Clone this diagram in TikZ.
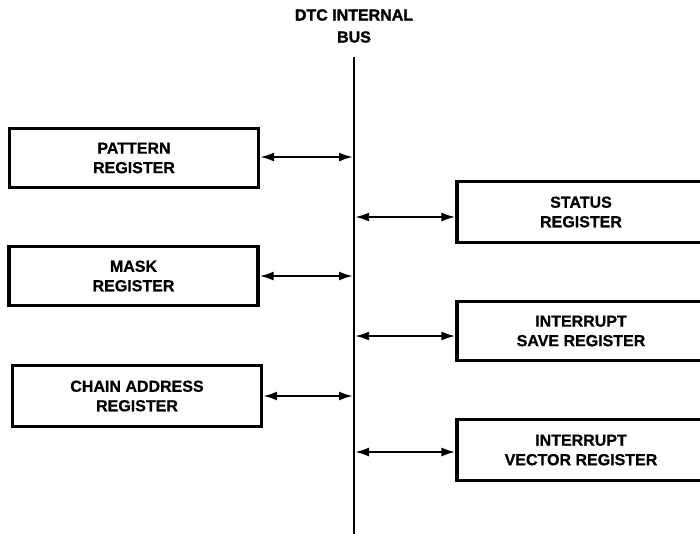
\documentclass[tikz,border=0pt]{standalone}
\usepackage{fontspec}
\setmainfont{Liberation Sans}
\newfontfamily\heavy[FakeBold=0.8]{Liberation Sans Bold}
\newfontfamily\heavier[FakeBold=1.6]{Liberation Sans Bold}
\usetikzlibrary{arrows.meta}
\tikzset{
  reg/.style={draw=black, line width=3.2pt, fill=white, align=center,
    font=\fontsize{16}{19.5}\selectfont\heavy, inner sep=0pt},
  lreg/.style={reg, minimum width=249pt, minimum height=59pt},
  rreg/.style={reg, minimum width=248pt, minimum height=61pt},
  link/.style={line width=2.2pt, {Latex[length=14pt,width=9pt]}-{Latex[length=14pt,width=9pt]}},
  busline/.style={line width=2.6pt},
  titlefont/.style={font=\fontsize{16}{22}\selectfont\heavier, align=center}
}
\begin{document}
\begin{tikzpicture}[x=1pt,y=-1pt]
\useasboundingbox (0,0) rectangle (700,533);
\node[titlefont] (title) at (354,26) {DTC INTERNAL\\BUS};
\coordinate (bt) at (354,57);
\coordinate (bb) at (354,540);
\draw[busline] (bt) -- (bb);

\node[lreg] (pat) at (134,158) {PATTERN\\REGISTER};
\node[lreg] (mask) at (133.5,276) {MASK\\REGISTER};
\node[lreg, minimum height=61pt] (chain) at (137,396) {CHAIN ADDRESS\\REGISTER};

\node[rreg] (stat) at (581,212) {STATUS\\REGISTER};
\node[rreg, minimum height=59pt] (save) at (581,331) {INTERRUPT\\SAVE REGISTER};
\node[rreg] (vec) at (581,450) {INTERRUPT\\VECTOR REGISTER};

\coordinate (pa) at (353,157);
\coordinate (ma) at (353,276);
\coordinate (ca) at (353,396);
\coordinate (sa) at (355,217);
\coordinate (ia) at (355,336);
\coordinate (va) at (355,452);

\draw[link] (pat.east |- pa) -- (pa);
\draw[link] (mask.east |- ma) -- (ma);
\draw[link] (chain.east |- ca) -- (ca);
\draw[link] (sa) -- (stat.west |- sa);
\draw[link] (ia) -- (save.west |- ia);
\draw[link] (va) -- (vec.west |- va);
\end{tikzpicture}
\end{document}
